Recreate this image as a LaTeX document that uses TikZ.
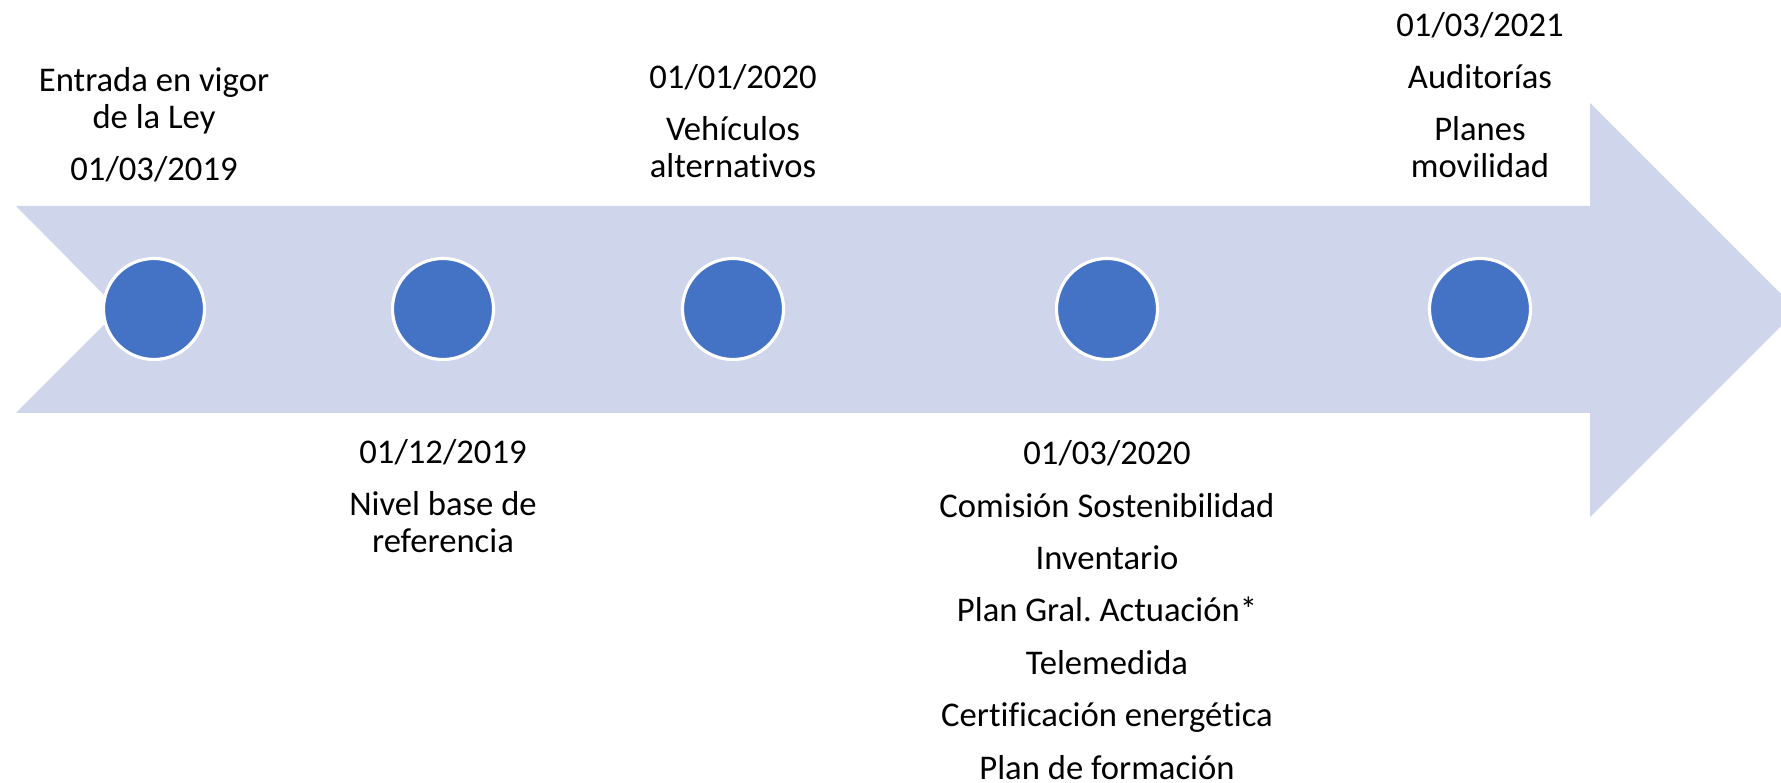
\documentclass[tikz,border=0pt]{standalone}
\usepackage{fontspec}
\setmainfont{Carlito}[RawFeature=-liga]
\frenchspacing
\definecolor{flechafondo}{HTML}{CFD5EA}
\definecolor{hitoazul}{HTML}{4472C4}
\tikzset{
  hito/.style={circle, fill=hitoazul, draw=white, line width=0.9pt,
    minimum size=1.01cm, inner sep=0pt},
  etiqueta/.style={align=center, inner sep=0pt,
    font=\fontsize{9.85pt}{10.4pt}\selectfont}
}
\begin{document}
\begin{tikzpicture}[x=0.01cm,y=-0.01cm]
\useasboundingbox (0,0) rectangle (1781,783);
\clip (0,0) rectangle (1781,783);

% flecha de fondo
\fill [flechafondo] (16,206) -- (1590,206) -- (1590,103) -- (1797,310)
  -- (1590,517) -- (1590,413) -- (16,413) -- (119,310) -- cycle;

% hitos
\node (ley) [hito] at (154,309) {};
\node (nivel) [hito] at (443,309) {};
\node (vehiculos) [hito] at (733,309) {};
\node (comision) [hito] at (1107,309) {};
\node (auditorias) [hito] at (1480,309) {};

% textos
\node (leytxt) [etiqueta] at (154,125)
  {Entrada en vigor\\de la Ley\\[4.5pt]01/03/2019};
\node (niveltxt) [etiqueta] at (443,496)
  {01/12/2019\\[4.5pt]Nivel base de\\referencia};
\node (vehiculostxt) [etiqueta] at (733,121)
  {01/01/2020\\[4.5pt]Vehículos\\alternativos};
\node (comisiontxt) [etiqueta] at (1107,610)
  {01/03/2020\\[4.5pt]Comisión Sostenibilidad\\[4.5pt]Inventario\\[4.5pt]Plan Gral. Actuación*\\[4.5pt]Telemedida\\[4.5pt]Certificación energética\\[4.5pt]Plan de formación};
\node (auditoriastxt) [etiqueta] at (1480,95)
  {01/03/2021\\[4.5pt]Auditorías\\[4.5pt]Planes\\movilidad};

\end{tikzpicture}
\end{document}
